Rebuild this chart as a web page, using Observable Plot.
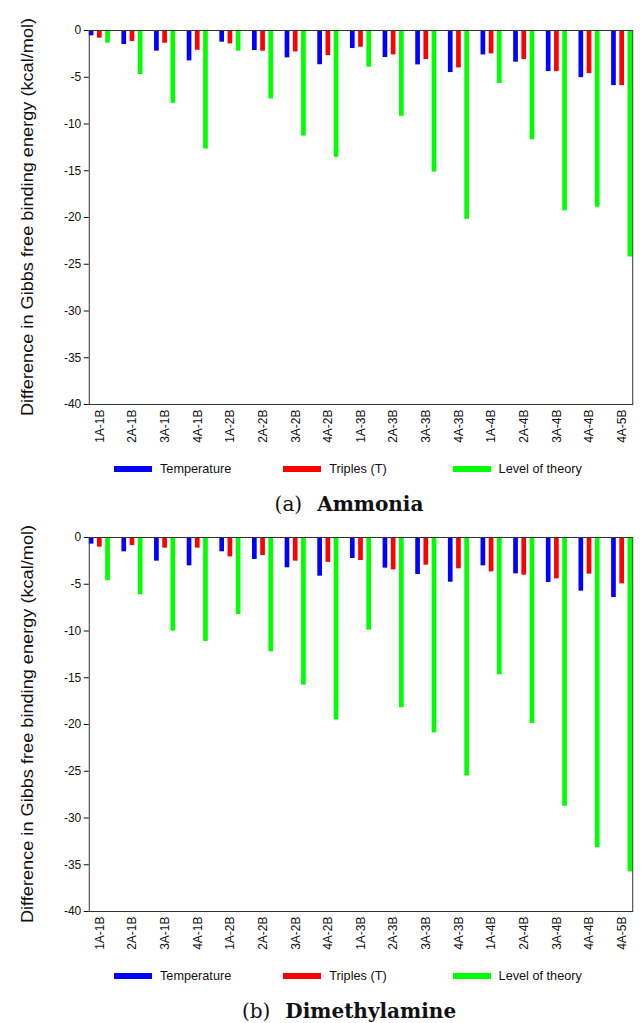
<!DOCTYPE html>
<html><head><meta charset="utf-8">
<script src="https://cdn.jsdelivr.net/npm/d3@7"></script>
<script src="https://cdn.jsdelivr.net/npm/@observablehq/plot@0.6"></script>
<style>
html,body{margin:0;padding:0;background:#fff;overflow:hidden;}
#root{width:642px;height:1023px;overflow:hidden;position:relative;}
.panel{position:relative;width:642px;height:507px;overflow:visible;}
.panel svg{position:absolute;left:0;top:0;}
.ylab{position:absolute;left:-183px;top:207px;width:420px;height:20px;line-height:20px;text-align:center;transform:rotate(-90deg) scale(1.1,1);font-family:"Liberation Sans",Arial,sans-serif;font-size:16.5px;color:#111;white-space:nowrap;}
.legend{position:absolute;top:460px;left:0;width:642px;height:18px;font-family:"Liberation Sans",Arial,sans-serif;font-size:12.7px;color:#111;}
.item{position:absolute;top:0;height:18px;display:flex;align-items:center;white-space:nowrap;}
.sw{width:38px;height:6px;margin-right:8px;}
.caption{position:absolute;top:493px;left:0;width:698px;text-align:center;font-family:"DejaVu Serif",serif;font-size:20px;line-height:23px;color:#111;white-space:nowrap;}
</style></head><body><div id="root"></div>
<script>
const categories = ["1A-1B","2A-1B","3A-1B","4A-1B","1A-2B","2A-2B","3A-2B","4A-2B","1A-3B","2A-3B","3A-3B","4A-3B","1A-4B","2A-4B","3A-4B","4A-4B","4A-5B"];
const seriesNames = ["Temperature","Triples (T)","Level of theory"];
const seriesColors = ["#0000ff","#ff0000","#00ff00"];
const yTicks = [0,-5,-10,-15,-20,-25,-30,-35,-40];
const yLabel = "Difference in Gibbs free binding energy (kcal/mol)";

const ammoniaTemperature = [-0.57,-1.5,-2.21,-3.25,-1.25,-2.14,-2.93,-3.66,-1.93,-2.89,-3.68,-4.5,-2.61,-3.39,-4.39,-5.04,-5.89];
const ammoniaTriples = [-0.82,-1.18,-1.36,-2.11,-1.43,-2.21,-2.29,-2.68,-1.79,-2.61,-3.11,-4.0,-2.5,-3.11,-4.39,-4.61,-5.89];
const ammoniaLevel = [-1.36,-4.71,-7.79,-12.68,-2.21,-7.32,-11.29,-13.57,-3.93,-9.18,-15.14,-20.19,-5.68,-11.68,-19.29,-18.9,-24.22];

const dmaTemperature = [-0.71,-1.53,-2.53,-3.03,-1.53,-2.35,-3.24,-4.14,-2.25,-3.28,-3.96,-4.78,-3.03,-3.89,-4.81,-5.74,-6.42];
const dmaTriples = [-1.03,-0.86,-1.14,-1.14,-2.07,-1.93,-2.53,-2.66,-2.46,-3.46,-2.96,-3.35,-3.67,-4.03,-4.42,-3.92,-4.96];
const dmaLevel = [-4.63,-6.13,-10.02,-11.12,-8.24,-12.23,-15.79,-19.5,-9.91,-18.2,-20.9,-25.5,-14.69,-19.9,-28.74,-33.16,-35.76];

function tidy(arrays) {
  const rows = [];
  categories.forEach((c, i) => {
    seriesNames.forEach((s, j) => rows.push({category: c, series: s, value: arrays[j][i]}));
  });
  return rows;
}

function panel(letter, name, arrays) {
  const div = document.createElement("div");
  div.className = "panel";
  const chart = Plot.plot({
    width: 654, height: 454, marginTop: 30, marginBottom: 50, marginLeft: 67, marginRight: 0,
    style: {fontFamily: "Liberation Sans, Arial, sans-serif", fontSize: "12px", color: "#111", maxWidth: "none", background: "transparent"},
    fx: {domain: categories, round: false, paddingInner: 0.354, paddingOuter: 0.667, label: null, axis: "bottom", tickRotate: -90, tickSize: 0, tickPadding: 5},
    x: {domain: seriesNames, round: false, axis: null, paddingInner: 0.43, paddingOuter: 0},
    y: {domain: [-40, 0], ticks: yTicks, tickFormat: d => String(d), tickSize: 5, tickPadding: 3, label: null},
    color: {domain: seriesNames, range: seriesColors},
    marks: [
      Plot.barY(tidy(arrays), {fx: "category", x: "series", y: "value", fill: "series"}),
      Plot.frame({facet: "super", stroke: "#333"})
    ]
  });
  div.appendChild(chart);
  const yl = document.createElement("div");
  yl.className = "ylab";
  yl.textContent = yLabel;
  div.appendChild(yl);
  const legend = document.createElement("div");
  legend.className = "legend";
  seriesNames.forEach((s, i) => {
    const it = document.createElement("div");
    it.className = "item";
    it.style.left = (114 + i * 169.3) + "px";
    const sw = document.createElement("div");
    sw.className = "sw";
    sw.style.background = seriesColors[i];
    const t = document.createElement("span");
    t.textContent = s;
    it.appendChild(sw); it.appendChild(t);
    legend.appendChild(it);
  });
  div.appendChild(legend);
  const cap = document.createElement("div");
  cap.className = "caption";
  cap.innerHTML = "(" + letter + ")<b style=\"margin-left:15px\">" + name + "</b>";
  div.appendChild(cap);
  document.getElementById("root").appendChild(div);
}

panel("a", "Ammonia", [ammoniaTemperature, ammoniaTriples, ammoniaLevel]);
panel("b", "Dimethylamine", [dmaTemperature, dmaTriples, dmaLevel]);
</script></body></html>
